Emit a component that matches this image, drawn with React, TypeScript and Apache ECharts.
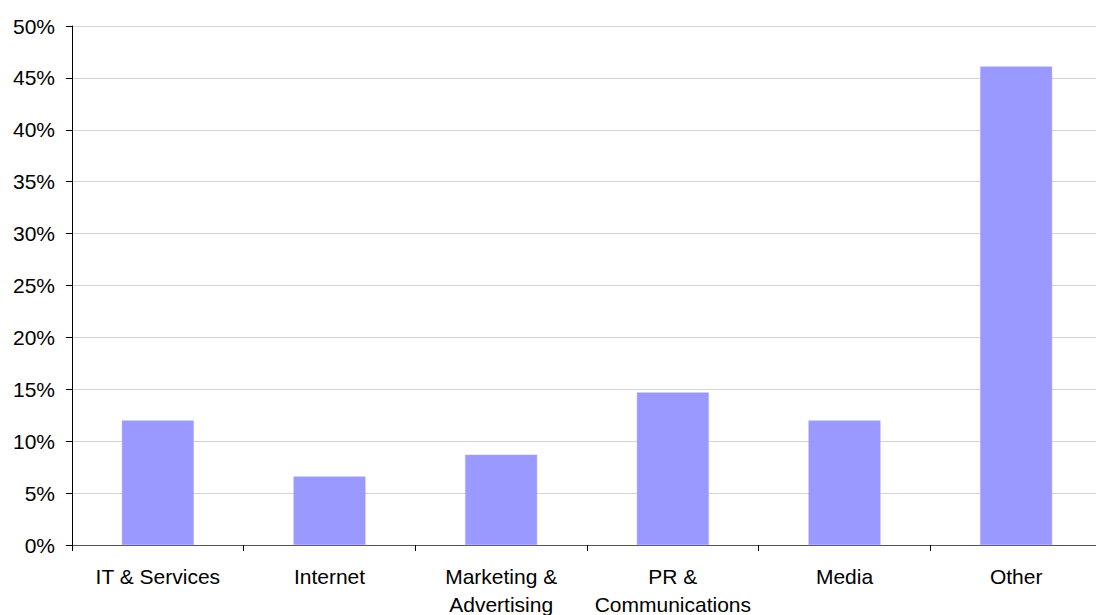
import React, { useEffect, useRef } from "react";
import * as echarts from "echarts";

const categories = [
  "IT & Services",
  "Internet",
  "Marketing &\nAdvertising",
  "PR &\nCommunications",
  "Media",
  "Other",
];
const shares = [12.0, 6.6, 8.7, 14.7, 12.0, 46.1];
const yTicks = [0, 5, 10, 15, 20, 25, 30, 35, 40, 45, 50];

export default function App() {
  const ref = useRef<HTMLDivElement>(null);
  useEffect(() => {
    document.body.style.margin = "0";
    const chart = echarts.init(ref.current!, null, { renderer: "svg" });
    const font = "Liberation Sans, Arial, sans-serif";
    chart.setOption({
      animation: false,
      backgroundColor: "#ffffff",
      grid: { left: 72, right: 0, top: 26, bottom: 70, containLabel: false, outerBoundsMode: "none" },
      xAxis: {
        type: "category",
        data: categories,
        boundaryGap: true,
        axisLine: { lineStyle: { color: "#555555", width: 1 } },
        axisTick: { show: true, length: 6, lineStyle: { color: "#000000" } },
        axisLabel: {
          color: "#000000",
          fontFamily: font,
          fontSize: 21,
          lineHeight: 28,
          margin: 17,
          interval: 0,
        },
      },
      yAxis: {
        type: "value",
        min: yTicks[0],
        max: yTicks[yTicks.length - 1],
        interval: 5,
        axisLine: { show: true, lineStyle: { color: "#000000", width: 1 } },
        axisTick: { show: true, length: 6, lineStyle: { color: "#000000" } },
        axisLabel: {
          color: "#000000",
          fontFamily: font,
          fontSize: 21,
          margin: 17,
          formatter: (v: number) => `${v}%`,
        },
        splitLine: { show: true, lineStyle: { color: "#d4d4d4", width: 1 } },
      },
      series: [
        {
          type: "bar",
          data: shares,
          barWidth: 72,
          itemStyle: { color: "#9999ff", borderColor: "#aaaaff", borderWidth: 0.5 },
        },
      ],
    });
    return () => chart.dispose();
  }, []);
  return (
    <div style={{ position: "absolute", left: 0, top: 0, width: 1096, height: 615, overflow: "hidden", background: "#fff" }}>
      <div ref={ref} style={{ width: 1102, height: 615 }} />
    </div>
  );
}
